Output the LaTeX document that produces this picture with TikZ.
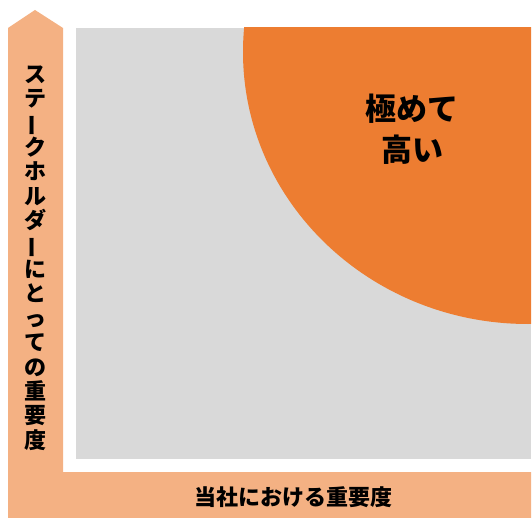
\documentclass[tikz,border=0pt]{standalone}
\usepackage{fontspec}
\usepackage{graphicx}
\newfontfamily\jpfont{Noto Sans CJK JP}
\usetikzlibrary{positioning}
\definecolor{axisorange}{HTML}{F4B183}
\definecolor{bigorange}{HTML}{ED7D31}
\definecolor{fieldgray}{HTML}{D9D9D9}
\newcommand{\vbar}{\rotatebox[origin=c]{90}{ー}}
\tikzset{
  axislabel/.style={font=\jpfont\bfseries\fontsize{22}{24.4}\selectfont, inner sep=0pt, align=center},
  biglabel/.style={font=\jpfont\bfseries\fontsize{31}{41}\selectfont, inner sep=0pt}
}
\begin{document}
\begin{tikzpicture}[x=1pt, y=-1pt, node distance=41pt]
\useasboundingbox (0,0) rectangle (532,518);
% axes
\fill[axisorange] (8,28) -- (35,10) -- (63,28) -- (63,472) -- (531,472) -- (531,518) -- (8,518) -- cycle;
% field
\fill[fieldgray] (76,28) rectangle (531,459);
\begin{scope}
\clip (76,28) rectangle (531,459);
\fill[bigorange] (528,52) ellipse [x radius=285pt, y radius=272pt];
\end{scope}
\node (kiwa) [biglabel] at (412,109) {極めて};
\node (takai) [biglabel, below of = kiwa] {高い};
\node (ylabel) [axislabel] at (35,258) {ス\\テ\\\vbar\\ク\\ホ\\ル\\ダ\\\vbar\\に\\と\\っ\\て\\の\\重\\要\\度};
\node (xlabel) [axislabel] at (293,497) {当社における重要度};
\end{tikzpicture}
\end{document}
